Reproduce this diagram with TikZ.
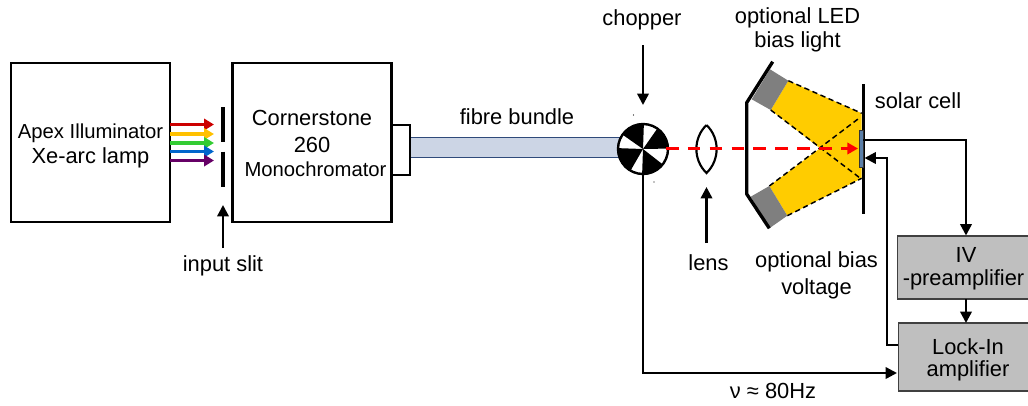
\documentclass[tikz,border=0pt]{standalone}
\usepackage{fontspec}
\setmainfont{Liberation Sans}
\usetikzlibrary{arrows.meta}
\definecolor{fibre}{HTML}{CCD5E5}
\definecolor{fibreedge}{HTML}{2F4A7A}
\definecolor{ledgray}{HTML}{7F7F7F}
\definecolor{beam}{HTML}{FFCC00}
\definecolor{cellblue}{HTML}{5B7FA8}
\definecolor{ampgray}{HTML}{BFBFBF}
\definecolor{rayred}{HTML}{CC0000}
\definecolor{rayyellow}{HTML}{FFC000}
\definecolor{raygreen}{HTML}{33CC33}
\definecolor{rayblue}{HTML}{0066CC}
\definecolor{raypurple}{HTML}{660066}
\tikzset{
  x=0.75pt,y=-0.75pt,
  every node/.style={font=\fontsize{16.4}{18}\selectfont,inner sep=0pt,outer sep=0pt},
  smalltext/.style={font=\fontsize{15.2}{17}\selectfont},
  boxnode/.style={draw=black,line width=1.6pt,fill=white},
  ampbox/.style={draw=black!75,line width=1.2pt,fill=ampgray},
  wire/.style={draw=black,line width=1.8pt,-{Triangle[length=8.5pt,width=8.5pt]}},
  ray/.style={line width=2.5pt,-{Triangle[length=7.5pt,width=8.5pt]}},
  thickbar/.style={draw=black,line width=2.6pt},
  dashedge/.style={draw=black,line width=1.1pt,dash pattern=on 4pt off 2.6pt},
}
\begin{document}
\begin{tikzpicture}
\useasboundingbox (0,0) rectangle (1028,405);
% fibre and boxes
\node[draw=fibreedge,line width=0.9pt,fill=fibre,minimum width=157.5pt,minimum height=14.5pt] (fibre) at (515,147.5) {};
\node[boxnode,minimum width=119.25pt,minimum height=119.25pt] (lamp) at (90.5,142.5) {};
\node[boxnode,minimum width=119.25pt,minimum height=119.25pt] (mono) at (312,142.5) {};
\node[boxnode,minimum width=13.5pt,minimum height=37.5pt] (port) at (401,150) {};
\node[smalltext] (t1) at (90.5,133) {Apex Illuminator};
\node (t2) at (90.5,157.5) {Xe-arc lamp};
\node (t3) at (312,118) {Cornerstone};
\node (t4) at (312,145) {260};
\node[smalltext] (t5) at (315.5,169) {Monochromator};
\node (t6) at (517,117) {fibre bundle};
\node (t7) at (223,266) {input slit};
\node (t8) at (642,20) {chopper};
\node (t9a) at (797.5,18) {optional LED};
\node (t9b) at (797.5,42) {bias light};
\node (t10) at (918,101) {solar cell};
\node (t11) at (708.5,263) {lens};
\node (t12a) at (816.5,262) {optional bias};
\node (t12b) at (816.5,289) {voltage};
\node (t13) at (773,391) {ν ≈ 80Hz};
% rays
\coordinate (rs1) at (170,124.5); \coordinate (re1) at (214,124.5);
\coordinate (rs2) at (170,134); \coordinate (re2) at (214,134);
\coordinate (rs3) at (170,143); \coordinate (re3) at (214,143);
\coordinate (rs4) at (170,151.5); \coordinate (re4) at (214,151.5);
\coordinate (rs5) at (170,160.5); \coordinate (re5) at (214,160.5);
\draw[ray,color=rayred] (rs1) -- (re1);
\draw[ray,color=rayyellow] (rs2) -- (re2);
\draw[ray,color=raygreen] (rs3) -- (re3);
\draw[ray,color=rayblue] (rs4) -- (re4);
\draw[ray,color=raypurple] (rs5) -- (re5);
% slit
\draw[thickbar] (223,107) -- (223,142);
\draw[thickbar] (223,151.5) -- (223,187);
\coordinate (slitarrow) at (223,248);
\coordinate (slittip) at (223,205);
\draw[wire] (slitarrow) -- (slittip);
% yellow beams
\fill[beam] (788.3,80.7) -- (861.7,113.3) -- (861.7,178.3) -- (787.3,215.7) -- (769.3,186) -- (820,148.3) -- (770.7,110) -- cycle;
\draw[dashedge] (788.3,80.7) -- (861.7,113.3);
\draw[dashedge] (787.3,215.7) -- (861.7,178.3);
\draw[dashedge] (770.7,110) -- (860,178);
\draw[dashedge] (769.3,186) -- (860,117.5);
% LED heads
\fill[ledgray] (770,69.3) -- (788.3,80.7) -- (770.7,110) -- (751.7,99.3) -- cycle;
\fill[ledgray] (769.3,186) -- (787.3,215.7) -- (769.3,228.3) -- (750.7,196.7) -- cycle;
\draw[black,line width=2.5pt,line join=bevel] (772.7,61.7) -- (746.7,102.7) -- (746.7,194) -- (769.3,228.3);
% cell
\draw[thickbar,line width=2.3pt] (863.3,84) -- (863.3,214);
\node[draw=black!80,line width=0.4pt,fill=cellblue,minimum width=2.6pt,minimum height=27.5pt] (cell) at (861.3,148.5) {};
% chopper
\coordinate (ch) at (643,149);
\fill[white] (ch) circle (25);
\fill[black] (ch) -- ++(92:25) arc[start angle=92,end angle=38,radius=25] -- cycle;
\fill[black] (ch) -- ++(-1:25) arc[start angle=-1,end angle=-55,radius=25] -- cycle;
\fill[black] (ch) -- ++(-88:25) arc[start angle=-88,end angle=-145,radius=25] -- cycle;
\fill[black] (ch) -- ++(182:25) arc[start angle=182,end angle=120,radius=25] -- cycle;
\node[circle,draw=black,line width=1.8pt,minimum size=37.5pt] (chopper) at (ch) {};
\fill[black] (633.5,115) circle (0.7);
\fill[black] (654,182) circle (0.7);
% lens
\coordinate (lenstop) at (706.5,125);
\coordinate (lensbot) at (706.5,173);
\draw[black,line width=1.6pt] (lenstop) .. controls (693,138) and (693,160) .. (lensbot) .. controls (720,160) and (720,138) .. (lenstop);
% beam
\coordinate (beamstart) at (666,148.5);
\coordinate (beamend) at (858,148.5);
\draw[red,line width=2.4pt,dash pattern=on 9.4pt off 7pt,-{Triangle[length=8pt,width=8.5pt]}] (beamstart) -- (beamend);
% amps
\node[ampbox,minimum width=98.5pt,minimum height=47pt] (iv) at (963,267.5) {};
\node[ampbox,minimum width=98pt,minimum height=51pt] (lockin) at (964,357) {};
\node (t14) at (966,255) {IV};
\node (t15) at (963.5,280) {-preamplifier};
\node (t16) at (968,347) {Lock-In};
\node (t17) at (968,371) {amplifier};
% connectors
\coordinate (chtop) at (643,45);
\coordinate (chtip) at (643,105);
\draw[wire] (chtop) -- (chtip);
\coordinate (lensarrow) at (706.5,243);
\coordinate (lenstip) at (706.5,187);
\draw[wire] (lensarrow) -- (lenstip);
\coordinate (cellout) at (863.3,140);
\draw[wire] (cellout) -| (966,235.5);
\coordinate (ivbot) at (966,299);
\coordinate (litop) at (966,323);
\draw[wire] (ivbot) -- (litop);
\coordinate (liout) at (898,345);
\coordinate (cellin) at (864.5,158);
\draw[wire] (liout) -- (887,345) -- (887,158) -- (cellin);
\coordinate (lileft) at (897,373);
\draw[wire] (chopper.south) -- (643,373) -- (lileft);
\end{tikzpicture}
\end{document}
